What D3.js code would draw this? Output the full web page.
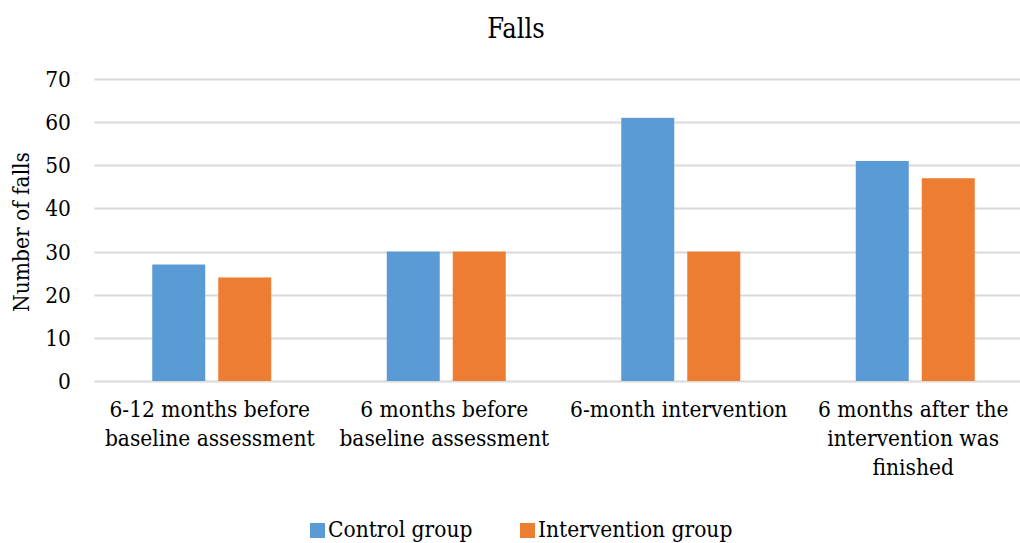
<!DOCTYPE html>
<html>
<head>
<meta charset="utf-8">
<script src="https://cdn.jsdelivr.net/npm/d3@7"></script>
<style>
  html, body { margin: 0; padding: 0; background: #fff; }
  svg { display: block; }
  svg text { font-family: "DejaVu Serif Condensed", "DejaVu Serif"; font-stretch: condensed; }
</style>
</head>
<body>
<svg id="chart" width="1020" height="543"></svg>
<script>
// Falls per period, by study group
const categories = [
  "6-12 months before\nbaseline assessment",
  "6 months before\nbaseline assessment",
  "6-month intervention",
  "6 months after the\nintervention was\nfinished"
];
const seriesNames = ["Control group", "Intervention group"];
const controlValues = [27, 30, 61, 51];
const interventionValues = [24, 30, 30, 47];
const yTicks = [0, 10, 20, 30, 40, 50, 60, 70];
const colors = ["#5B9BD5", "#ED7D31"];

const TEXT_SIZE = 22.5;

const seriesValues = [controlValues, interventionValues];
const rows = categories.map((c, i) => ({
  category: c,
  values: seriesNames.map((s, j) => ({ series: s, value: seriesValues[j][i] }))
}));

const svg = d3.select("#chart");

// Plot area (extends slightly past the right edge, as the chart is cropped there)
const plot = { left: 94.5, right: 1032.5, top: 79, bottom: 381 };

const y = d3.scaleLinear().domain([0, 70]).range([plot.bottom, plot.top]);
const x0 = d3.scaleBand().domain(categories).range([plot.left, plot.right]).padding(0);
const groupWidth = 119;
const x1 = d3.scaleBand().domain(seriesNames).range([0, groupWidth]).paddingInner(0.197).paddingOuter(0);
const color = d3.scaleOrdinal().domain(seriesNames).range(colors);

// Gridlines
svg.append("g")
  .selectAll("line")
  .data(yTicks)
  .join("line")
  .attr("x1", plot.left)
  .attr("x2", plot.right)
  .attr("y1", d => Math.round(y(d)) + 0.5)
  .attr("y2", d => Math.round(y(d)) + 0.5)
  .attr("stroke", "#D9D9D9")
  .attr("stroke-width", 2);

// Y tick labels
svg.append("g")
  .selectAll("text")
  .data(yTicks)
  .join("text")
  .attr("x", 71)
  .attr("y", d => y(d) + 8)
  .attr("text-anchor", "end")
  .attr("font-size", TEXT_SIZE)
  .attr("fill", "#000")
  .text(d => d);

// Bars
const groups = svg.append("g")
  .selectAll("g")
  .data(rows)
  .join("g")
  .attr("transform", d => `translate(${x0(d.category) + (x0.bandwidth() - groupWidth) / 2},0)`);

groups.selectAll("rect")
  .data(d => d.values)
  .join("rect")
  .attr("x", d => x1(d.series))
  .attr("width", x1.bandwidth())
  .attr("y", d => y(d.value))
  .attr("height", d => y(0) - y(d.value))
  .attr("fill", d => color(d.series));

// Category labels (multi-line)
const catLabels = svg.append("g")
  .selectAll("text")
  .data(categories)
  .join("text")
  .attr("x", d => x0(d) + x0.bandwidth() / 2 - 2)
  .attr("y", 417)
  .attr("text-anchor", "middle")
  .attr("font-size", TEXT_SIZE)
  .attr("fill", "#000");

catLabels.selectAll("tspan")
  .data(d => d.split("\n"))
  .join("tspan")
  .attr("x", function () { return d3.select(this.parentNode).attr("x"); })
  .attr("dy", (d, i) => i === 0 ? 0 : 29)
  .text(d => d);

// Title
svg.append("text")
  .attr("x", 516)
  .attr("y", 38)
  .attr("text-anchor", "middle")
  .attr("font-size", 27)
  .attr("fill", "#000")
  .text("Falls");

// Y axis title
svg.append("text")
  .attr("transform", "translate(29,232) rotate(-90)")
  .attr("text-anchor", "middle")
  .attr("font-size", TEXT_SIZE)
  .attr("fill", "#000")
  .text("Number of falls");

// Legend
const legendItems = [
  { name: seriesNames[0], x: 310 },
  { name: seriesNames[1], x: 520 }
];
const legend = svg.append("g")
  .selectAll("g")
  .data(legendItems)
  .join("g")
  .attr("transform", d => `translate(${d.x},0)`);

legend.append("rect")
  .attr("x", 0)
  .attr("y", 523)
  .attr("width", 15)
  .attr("height", 15)
  .attr("fill", d => color(d.name));

legend.append("text")
  .attr("x", 18)
  .attr("y", 537)
  .attr("font-size", TEXT_SIZE)
  .attr("fill", "#000")
  .text(d => d.name);
</script>
</body>
</html>
